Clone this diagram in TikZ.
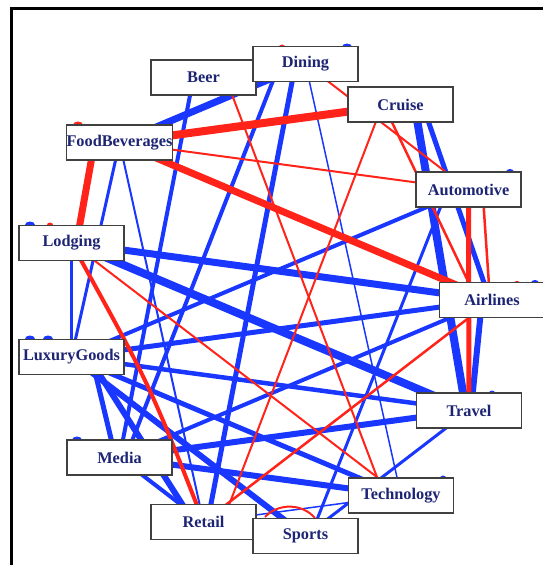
\documentclass[tikz,border=0pt]{standalone}
\usepackage{fontspec}
\setmainfont{Liberation Serif}
\usetikzlibrary{backgrounds}
\definecolor{eblue}{RGB}{25,55,255}
\definecolor{ered}{RGB}{255,35,25}
\definecolor{navy}{RGB}{28,36,115}
\begin{document}
\begin{tikzpicture}[x=1pt,y=-1pt,
  lbl/.style={draw=black!75, line width=1.3pt, fill=white, minimum width=105pt,
    minimum height=35pt, inner sep=0pt, text=navy,
    font=\bfseries\fontsize{16.3}{18}\selectfont},
  eb/.style={draw=eblue, line width=#1pt},
  er/.style={draw=ered, line width=#1pt},
  blobb/.style={fill=eblue},
  blobr/.style={fill=ered}]
\useasboundingbox (0,0) rectangle (543,565);
% nodes
\node[lbl] (Be) at (203.5,77.5) {Beer};
\node[lbl] (Di) at (305.5,64) {Dining};
\node[lbl] (Cr) at (400.5,104.5) {Cruise};
\node[lbl] (FB) at (119.5,142.5) {FoodBeverages};
\node[lbl] (Au) at (468.5,189.5) {Automotive};
\node[lbl] (Lo) at (71.5,243) {Lodging};
\node[lbl] (Ai) at (492,300) {Airlines};
\node[lbl] (Lu) at (71.5,357) {LuxuryGoods};
\node[lbl] (Tr) at (469,410.5) {Travel};
\node[lbl] (Me) at (119.5,457.5) {Media};
\node[lbl] (Te) at (401,495.5) {Technology};
\node[lbl] (Re) at (203.5,522) {Retail};
\node[lbl] (Sp) at (305.5,536) {Sports};
\begin{scope}[on background layer]
% self-loop caps
\fill[blobb] (347,47) ellipse (5 and 3.5);
\fill[blobr] (282,47) ellipse (3 and 2.5);
\fill[blobr] (78,125) ellipse (5 and 3.5);
\fill[blobb] (30,225) ellipse (5 and 3.5);
\fill[blobr] (50,225) ellipse (3 and 2.5);
\fill[blobb] (30,339) ellipse (5 and 3.5);
\fill[blobb] (48,339) ellipse (5 and 3.5);
\fill[blobb] (77,440) ellipse (5 and 3.5);
\fill[blobb] (510,172) ellipse (4 and 3);
\fill[blobb] (535,283) ellipse (4 and 3);
\fill[blobr] (517,283) ellipse (3 and 2);
\fill[blobb] (492,393) ellipse (3 and 2.5);
\fill[blobb] (443,478) ellipse (3 and 2.5);
% blue edges
\draw[eb=7] (FB.center) -- (Di.center);
\draw[eb=2] (FB.center) -- (Re.center);
\draw[eb=3] (FB.center) -- (Lu.center);
\draw[eb=4] ([xshift=-10pt]Be.center) -- (Me.center);
\draw[eb=4] ([xshift=-26pt]Di.center) -- ([xshift=6pt]Me.center);
\draw[eb=5] ([xshift=-10pt]Di.center) -- ([xshift=4pt]Re.center);
\draw[eb=1.5] (Di.center) -- (Te.center);
\draw[eb=8] ([xshift=14pt]Cr.center) -- ([xshift=-3pt]Tr.center);
\draw[eb=5] ([xshift=22pt]Cr.center) -- ([xshift=-2pt]Ai.center);
\draw[eb=4] (Au.center) -- (Lu.center);
\draw[eb=3] ([xshift=-21pt]Au.center) -- ([xshift=5pt]Sp.center);
\draw[eb=2.5] (Lo.center) -- (Lu.center);
\draw[eb=7] (Lo.center) -- (Ai.center);
\draw[eb=8] (Lo.center) -- (Tr.center);
\draw[eb=5] (Lu.center) -- (Ai.center);
\draw[eb=4.5] (Lu.center) -- (Tr.center);
\draw[eb=5] (Lu.center) -- (Te.center);
\draw[eb=6] (Lu.center) -- (Sp.center);
\draw[eb=5] ([xshift=20pt]Lu.center) -- ([xshift=-4pt]Me.center);
\draw[eb=6] ([xshift=17pt]Lu.center) -- ([xshift=-10pt]Re.center);
\draw[eb=4] (Me.center) -- (Ai.center);
\draw[eb=6] (Me.center) -- (Tr.center);
\draw[eb=6] (Me.center) -- (Te.center);
\draw[eb=4] (Me.center) -- (Re.center);
\draw[eb=6] ([xshift=-10pt]Ai.center) -- ([xshift=2pt]Tr.center);
\draw[eb=3] (Tr.center) -- (Sp.center);
\draw[eb=1.5] (Re.center) -- (Te.center);
% red edges
\draw[er=8] (FB.center) -- (Cr.center);
\draw[er=7] (FB.center) -- (Ai.center);
\draw[er=7] ([xshift=-25pt]FB.center) -- ([xshift=5pt]Lo.center);
\draw[er=2] (FB.center) -- (Au.center);
\draw[er=2] ([xshift=22pt]Be.center) -- ([xshift=-17pt]Te.center);
\draw[er=2] (Di.center) -- (Au.center);
\draw[er=2] ([xshift=-18pt]Cr.center) -- ([xshift=19pt]Re.center);
\draw[er=2.5] ([xshift=-17pt]Cr.center) -- ([xshift=-15pt]Ai.center);
\draw[er=5] (Au.center) -- (Tr.center);
\draw[er=2.5] ([xshift=14pt]Au.center) -- ([xshift=-2pt]Ai.center);
\draw[er=4] (Lo.center) .. controls (150,385) .. (Re.center);
\draw[er=2] (Lo.center) -- (Te.center);
\draw[er=2.5] (Re.center) -- (Ai.center);
\draw[er=2] (265,517) .. controls (278,503) and (302,503) .. (315,518);
\end{scope}
% frame
\draw[line width=3pt] (11,575) -- (11,8) -- (560,8);
\end{tikzpicture}
\end{document}
